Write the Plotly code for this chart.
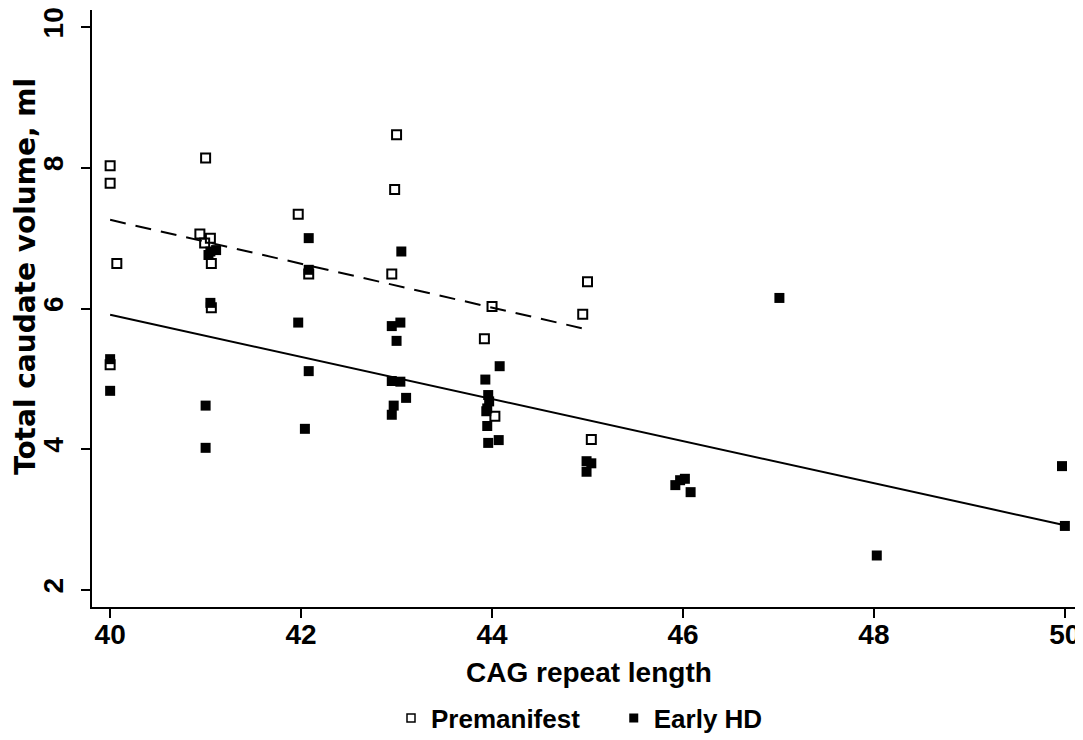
import plotly.graph_objects as go

# ---- data ----
pre_x = [40.0, 40.0, 40.07, 40.0, 41.0, 40.94, 41.05, 40.99, 41.06, 41.06,
         41.97, 42.08, 43.0, 42.98, 42.95, 44.0, 43.92, 44.03, 45.0, 44.95, 45.04]
pre_y = [8.03, 7.78, 6.64, 5.20, 8.14, 7.06, 7.00, 6.93, 6.64, 6.01,
         7.34, 6.49, 8.47, 7.69, 6.49, 6.03, 5.57, 4.47, 6.38, 5.92, 4.14]

hd_x = [40.0, 40.0, 41.0, 41.0, 41.05, 41.11, 41.03, 41.05, 42.08, 42.08,
        41.97, 42.08, 42.04, 43.05, 42.95, 43.04, 43.0, 42.95, 43.04, 43.10,
        42.97, 42.95, 44.08, 43.93, 43.96, 43.97, 43.95, 43.94, 43.95, 43.96,
        44.07, 44.99, 45.04, 44.99, 45.92, 46.02, 46.08, 45.97, 47.01, 48.03,
        49.97, 50.0]
hd_y = [5.28, 4.83, 4.62, 4.02, 6.81, 6.83, 6.76, 6.08, 7.00, 6.55,
        5.80, 5.11, 4.29, 6.81, 5.75, 5.80, 5.54, 4.97, 4.96, 4.73,
        4.62, 4.49, 5.18, 4.99, 4.77, 4.68, 4.58, 4.54, 4.33, 4.09,
        4.13, 3.83, 3.80, 3.68, 3.49, 3.58, 3.39, 3.56, 6.15, 2.49,
        3.76, 2.91]

pre_fit_x = [40.0, 44.94]
pre_fit_y = [7.26, 5.72]
hd_fit_x = [40.0, 50.0]
hd_fit_y = [5.91, 2.92]

x_ticks = [40, 42, 44, 46, 48, 50]
y_ticks = [2, 4, 6, 8, 10]

x_title = "CAG repeat length"
y_title = "Total caudate volume, ml"
series_names = ["Premanifest", "Early HD"]

FONT = "Liberation Sans, Arial, Helvetica, sans-serif"
YT_FONT = "DejaVu Sans, Liberation Sans, Arial, sans-serif"

fig = go.Figure()

fig.add_trace(go.Scatter(x=pre_fit_x, y=pre_fit_y, mode="lines",
                         line=dict(color="black", width=2, dash="16px,10px"),
                         showlegend=False, hoverinfo="skip"))
fig.add_trace(go.Scatter(x=hd_fit_x, y=hd_fit_y, mode="lines",
                         line=dict(color="black", width=2),
                         showlegend=False, hoverinfo="skip"))

fig.add_trace(go.Scatter(x=pre_x, y=pre_y, mode="markers", name=series_names[0],
                         marker=dict(symbol="square-open", size=9, color="black",
                                     line=dict(width=2, color="black")),
                         showlegend=False))
fig.add_trace(go.Scatter(x=hd_x, y=hd_y, mode="markers", name=series_names[1],
                         marker=dict(symbol="square", size=10, color="black",
                                     line=dict(width=0)),
                         showlegend=False))

# legend entries (small symbols like the reference)
fig.add_trace(go.Scatter(x=[None], y=[None], mode="markers",
                         name=f"<b>{series_names[0]}</b>" + "&nbsp;" * 4,
                         marker=dict(symbol="square-open", size=8, color="black",
                                     line=dict(width=1.5, color="black"))))
fig.add_trace(go.Scatter(x=[None], y=[None], mode="markers",
                         name=f"<b>{series_names[1]}</b>",
                         marker=dict(symbol="square", size=9, color="black")))

# The page body has an 8px margin, so the figure is 8px smaller and margins compensate.
fig.update_layout(
    width=1075, height=732,
    margin=dict(l=84, r=0, t=2, b=133, autoexpand=False),
    paper_bgcolor="white", plot_bgcolor="white",
    font=dict(family=FONT, size=26, color="black"),
    legend=dict(orientation="h", x=0.5 - 8 / 991, xanchor="center", y=-0.186,
                yanchor="middle",
                font=dict(family=FONT, size=26, color="black"),
                itemwidth=30, itemsizing="trace"),
    xaxis=dict(range=[39.81, 50.19], tickvals=x_ticks,
               ticktext=[f"<b>{t}</b>" for t in x_ticks],
               automargin=False, ticklabeloverflow="allow",
               showgrid=False, zeroline=False, showline=True, linecolor="black",
               linewidth=2, ticks="outside", ticklen=9, tickwidth=1.5, tickcolor="black",
               tickfont=dict(family=FONT, size=28), ticklabelstandoff=-8),
    yaxis=dict(range=[1.758, 10.242], tickvals=y_ticks,
               ticktext=[f"<b>{t}</b>" for t in y_ticks],
               tickangle=-90, automargin=False, ticklabeloverflow="allow",
               showgrid=False, zeroline=False, showline=True, linecolor="black",
               linewidth=2, ticks="outside", ticklen=9, tickwidth=1.5, tickcolor="black",
               tickfont=dict(family=FONT, size=28), ticklabelstandoff=7),
    annotations=[
        dict(text=f"<b>{x_title}</b>", xref="paper", yref="paper",
             x=(589 - 92) / 991, y=(607 - 672) / 597, xanchor="center", yanchor="middle",
             showarrow=False, font=dict(family=FONT, size=28)),
        dict(text=f"<b>{y_title}</b>", xref="paper", yref="paper",
             x=(25 - 92) / 991, y=(607 - 277) / 597, xanchor="center", yanchor="middle",
             textangle=-90, showarrow=False, font=dict(family=YT_FONT, size=28)),
    ],
)

fig.write_html("out.html")
